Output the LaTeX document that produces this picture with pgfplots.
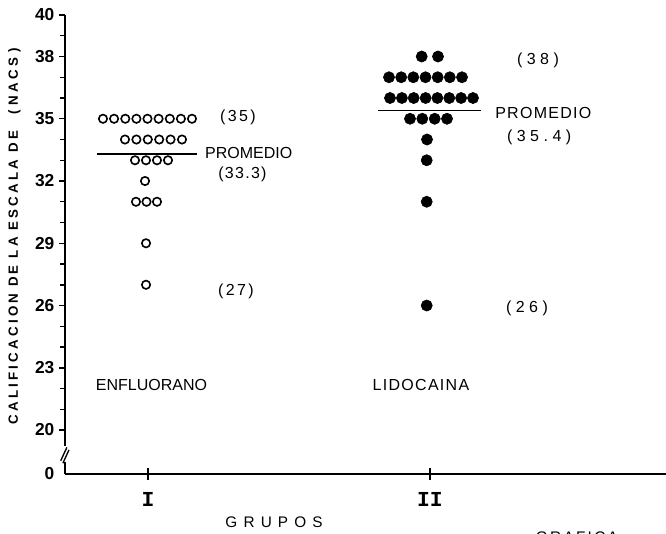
\documentclass[border=0pt]{standalone}
\usepackage{fontspec}
\setmainfont{Liberation Sans}
\newfontfamily\lsA[LetterSpace=15]{Liberation Sans}
\newfontfamily\lsB[LetterSpace=28]{Liberation Sans}
\newfontfamily\lsC[LetterSpace=8]{Liberation Sans}
\newfontfamily\lsG[LetterSpace=40]{Liberation Sans}
\newfontfamily\lsY[LetterSpace=24]{Liberation Sans}
\newfontfamily\romfont{Liberation Mono}
\usepackage{pgfplots}
\pgfplotsset{compat=1.18}
\begin{document}
\begin{tikzpicture}
\useasboundingbox (0,0) rectangle (499.5pt,-399.75pt);
\begin{axis}[
  scale only axis, width=450.75pt, height=344.25pt,
  anchor=south west, at={(48.75pt,-355.5pt)},
  xmin=0.7057, xmax=2.8369, ymin=17.88, ymax=40,
  axis lines*=left,
  axis line style={line width=1.3pt},
  clip=false,
  tick align=outside,
  major tick length=4.5pt, minor tick length=3.6pt,
  every tick/.style={black, line width=1.1pt},
  xtick={1,2}, xticklabels={I,II},
  x tick label style={font=\romfont\bfseries\fontsize{16}{16}\selectfont, yshift=-6pt},
  ytick={20,23,26,29,32,35,38,40},
  minor ytick={21,22,24,25,27,28,30,31,33,34,36,37,39},
  extra y ticks={17.88}, extra y tick labels={0},
  extra y tick style={tick style={draw=none}},
  y tick label style={font=\bfseries\fontsize{13}{13}\selectfont},
  /pgf/number format/assume math mode=true,
  ylabel={\lsY\bfseries\fontsize{10}{11}\selectfont CALIFICACION DE LA ESCALA DE\hspace{12pt}(\hspace{4pt}NACS\hspace{4pt})},
  every axis y label/.style={at={(rel axis cs:0,0.518)}, xshift=-37.9pt, rotate=90, anchor=center},
]
% Group I (open circles)
\addplot[only marks, mark=o, mark size=3.15pt, mark options={line width=1.2pt, black}] coordinates {
 (0.8404,35)(0.8798,35)(0.9195,35)(0.9589,35)(0.9982,35)(1.0376,35)(1.0773,35)(1.1167,35)(1.1560,35)
 (0.9184,34)(0.9589,34)(0.9993,34)(1.0397,34)(1.0801,34)(1.1206,34)
 (0.9539,33)(0.9929,33)(1.0319,33)(1.0709,33)
 (0.9894,32)
 (0.9574,31)(0.9947,31)(1.0319,31)
 (0.993,29)
 (0.993,27)
};
% Group II (filled dots)
\addplot[only marks, mark=*, mark size=4.2pt, black] coordinates {
 (1.9706,38)(2.0284,38)
 (1.8546,37)(1.8979,37)(1.9408,37)(1.9840,37)(2.0273,37)(2.0702,37)(2.1135,37)
 (1.8582,36)(1.9004,36)(1.9422,36)(1.9844,36)(2.0262,36)(2.0684,36)(2.1103,36)(2.1525,36)
 (1.9291,35)(1.9727,35)(2.0167,35)(2.0603,35)
 (1.9894,34)
 (1.9883,33)
 (1.9883,31)
 (1.9883,26)
};
% means
\addplot[black, line width=0.9pt] coordinates {(0.8191,33.3)(1.1738,33.3)};
\addplot[black, line width=0.9pt] coordinates {(1.8156,35.4)(2.1809,35.4)};
% axis break
\fill[white] ([xshift=-3pt]axis cs:0.7057,18.46) rectangle ([xshift=3pt]axis cs:0.7057,19.23);
\draw[line width=1pt] ([xshift=-3.2pt]axis cs:0.7057,18.52) -- ([xshift=1.4pt,yshift=10pt]axis cs:0.7057,18.52);
\draw[line width=1pt] ([xshift=-1.6pt]axis cs:0.7057,18.40) -- ([xshift=3pt,yshift=10pt]axis cs:0.7057,18.40);
% upper halves of x ticks
\draw[line width=1.1pt] (axis cs:1,17.88) -- ([yshift=4.5pt]axis cs:1,17.88);
\draw[line width=1.1pt] (axis cs:2,17.88) -- ([yshift=4.5pt]axis cs:2,17.88);
% texts
\begin{scope}[every node/.style={inner sep=0pt, font=\fontsize{12}{14}\selectfont}]
\node[font=\lsA\fontsize{12}{14}\selectfont] at (axis cs:1.319,35.08) {(35)};
\node[anchor=west] at (axis cs:1.202,33.35) {PROMEDIO};
\node[font=\lsC\fontsize{12}{14}\selectfont] at (axis cs:1.335,32.34) {(33.3)};
\node[font=\lsA\fontsize{12}{14}\selectfont] at (axis cs:1.312,26.7) {(27)};
\node[font=\lsB\fontsize{12}{14}\selectfont] at (axis cs:2.383,37.83) {(38)};
\node[anchor=west, font=\lsC\fontsize{12}{14}\selectfont] at (axis cs:2.2305,35.28) {PROMEDIO};
\node[font=\lsB\fontsize{12}{14}\selectfont] at (axis cs:2.387,34.12) {(35.4)};
\node[font=\lsB\fontsize{12}{14}\selectfont] at (axis cs:2.344,25.88) {(26)};
\node at (axis cs:1.0124,22.17) {ENFLUORANO};
\node[font=\lsC\fontsize{12}{14}\selectfont] at (axis cs:1.968,22.17) {LIDOCAINA};
\node[font=\lsG\fontsize{11.5}{14}\selectfont] at (axis cs:1.447,15.57) {GRUPOS};
\node[anchor=base, font=\lsA\fontsize{11.5}{14}\selectfont] at (axis cs:2.521,14.60) {GRAFICA};
\end{scope}
\draw[line width=1.5pt] (axis cs:2.748,14.75) -- (axis cs:2.830,14.75);
\end{axis}
\end{tikzpicture}
\end{document}
